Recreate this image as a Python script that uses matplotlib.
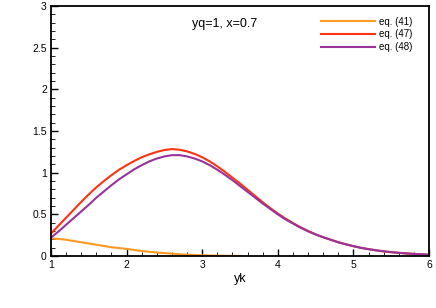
import matplotlib
matplotlib.use("Agg")
import matplotlib.pyplot as plt
from matplotlib.ticker import MultipleLocator

plt.rcParams['font.family'] = ['Liberation Sans', 'DejaVu Sans']

yk = [1.0, 1.1, 1.2, 1.3, 1.4, 1.5, 1.6, 1.7, 1.8, 1.9,
      2.0, 2.1, 2.2, 2.3, 2.4, 2.5, 2.6, 2.7, 2.8, 2.9,
      3.0, 3.1, 3.2, 3.3, 3.4, 3.5, 3.6, 3.7, 3.8, 3.9,
      4.0, 4.1, 4.2, 4.3, 4.4, 4.5, 4.6, 4.7, 4.8, 4.9,
      5.0, 5.1, 5.2, 5.3, 5.4, 5.5, 5.6, 5.7, 5.8, 5.9, 6.0]
eq47 = [0.27, 0.365, 0.46, 0.555, 0.65, 0.74, 0.825, 0.90, 0.97, 1.035,
        1.09, 1.14, 1.185, 1.22, 1.25, 1.272, 1.283, 1.275, 1.255, 1.225,
        1.185, 1.135, 1.075, 1.01, 0.94, 0.87, 0.795, 0.72, 0.645, 0.575,
        0.51, 0.45, 0.395, 0.345, 0.30, 0.26, 0.225, 0.195, 0.165, 0.14,
        0.118, 0.098, 0.082, 0.068, 0.056, 0.046, 0.038, 0.031, 0.025, 0.020, 0.016]
eq48 = [0.22, 0.295, 0.375, 0.455, 0.535, 0.615, 0.70, 0.775, 0.85, 0.92,
        0.98, 1.04, 1.09, 1.135, 1.17, 1.195, 1.21, 1.21, 1.195, 1.17,
        1.135, 1.09, 1.035, 0.975, 0.91, 0.84, 0.77, 0.70, 0.63, 0.565,
        0.50, 0.44, 0.39, 0.34, 0.297, 0.258, 0.225, 0.195, 0.165, 0.14,
        0.118, 0.098, 0.082, 0.068, 0.056, 0.046, 0.038, 0.031, 0.025, 0.020, 0.016]
yk41 = [1.0, 1.1, 1.2, 1.3, 1.4, 1.5, 1.6, 1.7, 1.8, 1.9,
        2.0, 2.1, 2.2, 2.3, 2.4, 2.5, 2.6, 2.7, 2.8, 2.9,
        3.0, 3.1, 3.2, 3.3, 3.4, 3.5]
eq41 = [0.21, 0.205, 0.195, 0.18, 0.165, 0.15, 0.135, 0.12, 0.105, 0.095,
        0.085, 0.072, 0.06, 0.05, 0.042, 0.035, 0.028, 0.021, 0.016, 0.012,
        0.009, 0.006, 0.004, 0.003, 0.002, 0.001]
labels = ["eq. (41)", "eq. (47)", "eq. (48)"]
colors = ["#FF9922", "#FF3311", "#993399"]
title = "yq=1, x=0.7"

fig = plt.figure(figsize=(4.36, 3.08), dpi=100)
ax = fig.add_axes([51/436, 1 - 256/308, (429-51)/436, (256-6)/308])

for xs, ys, lab, c in zip([yk41, yk, yk], [eq41, eq47, eq48], labels, colors):
    ax.plot(xs, ys, color=c, lw=1.5, label=lab)

ax.set_xlim(1, 6)
ax.set_ylim(0, 3)
ax.xaxis.set_major_locator(MultipleLocator(1))
ax.xaxis.set_minor_locator(MultipleLocator(0.2))
ax.yaxis.set_major_locator(MultipleLocator(0.5))
ax.yaxis.set_minor_locator(MultipleLocator(0.1))
ax.xaxis.set_major_formatter(plt.FuncFormatter(lambda v, p: f"{v:g}"))
ax.yaxis.set_major_formatter(plt.FuncFormatter(lambda v, p: f"{v:g}"))
ax.tick_params(which='major', direction='in', length=5, width=1, labelsize=7.5, pad=3)
ax.tick_params(which='minor', direction='in', length=3, width=0.6)
for s in ax.spines.values():
    s.set_linewidth(1.3)
ax.set_xlabel("yk", fontsize=9, labelpad=2)

ax.text(0.46, 0.93, title, transform=ax.transAxes, fontsize=9, ha='center', va='center')
leg = ax.legend(loc='upper right', bbox_to_anchor=(0.975, 0.985), frameon=False, fontsize=7,
                handlelength=5.5, handletextpad=0.5, labelspacing=0.3, borderpad=0.2)

fig.savefig("out.png", dpi=100)
